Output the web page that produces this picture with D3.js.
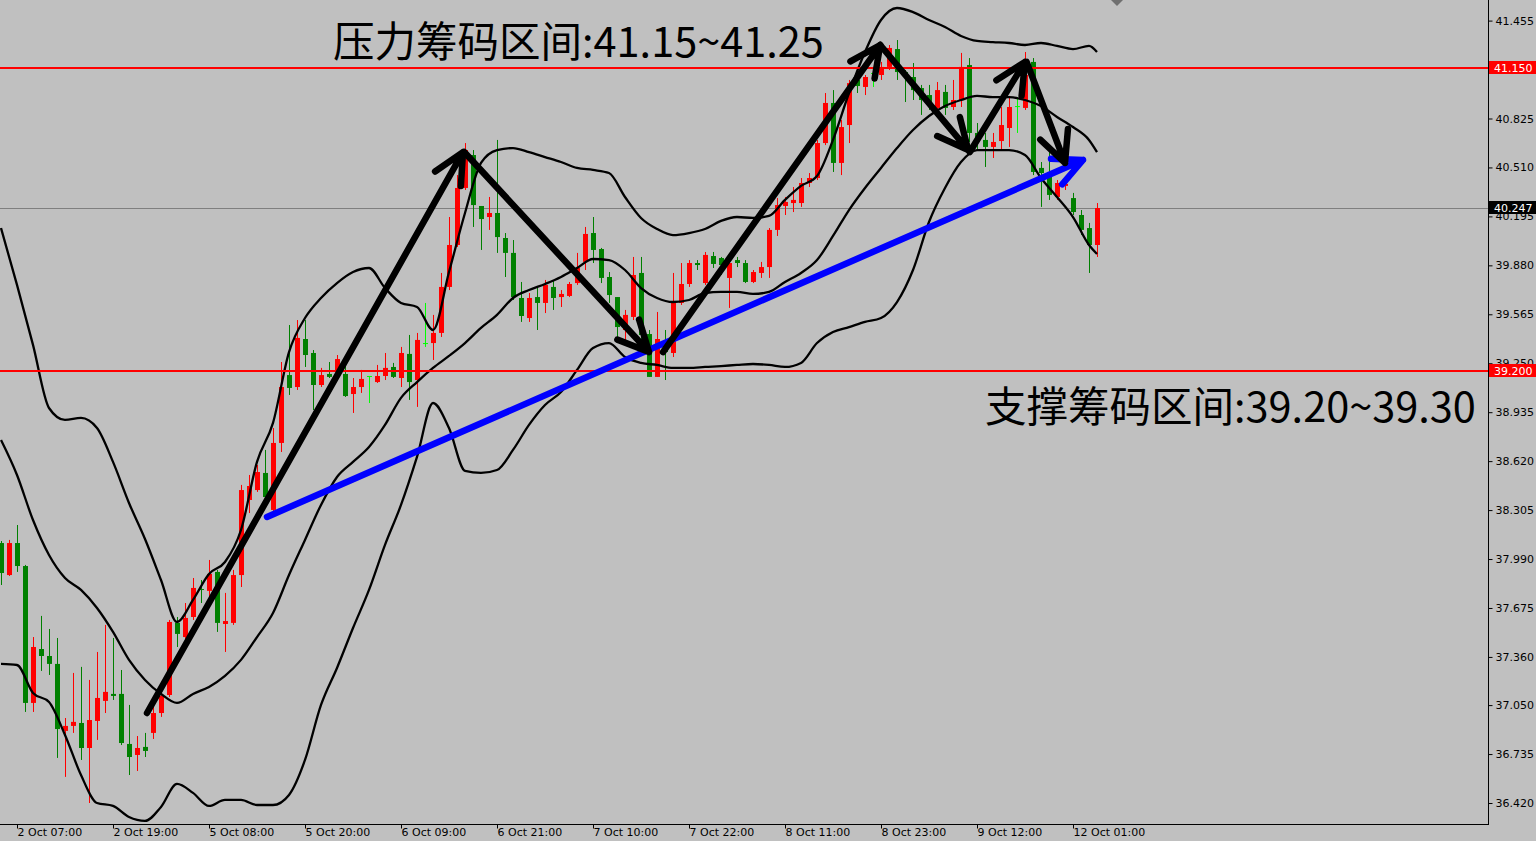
<!DOCTYPE html>
<html><head><meta charset="utf-8">
<script src="https://cdn.jsdelivr.net/npm/d3@7"></script>
<style>
html,body{margin:0;padding:0;background:#c0c0c0;overflow:hidden}
svg{display:block}
</style></head><body>
<svg id="chart" width="1536" height="841"></svg>
<script>
// ---------- DATA ----------
const openP = [38.093,37.887,38.093,37.945,37.064,37.411,37.366,37.315,36.884,36.916,
36.935,36.774,36.948,37.077,37.122,37.122,36.800,36.729,36.781,36.871,
36.999,37.115,37.579,37.488,37.617,37.797,37.785,37.907,37.572,37.579,
37.887,38.370,38.434,38.544,38.306,38.737,39.174,39.097,39.406,39.316,
39.110,39.181,39.194,39.181,39.052,39.097,39.168,39.129,39.168,39.226,
39.155,39.310,39.142,39.380,39.380,39.445,39.741,40.011,40.378,40.590,
40.262,40.191,40.217,40.056,39.960,39.670,39.541,39.676,39.638,39.741,
39.676,39.683,39.766,39.902,40.088,39.985,39.805,39.676,39.464,39.548,
39.831,39.438,39.162,39.355,39.316,39.638,39.760,39.895,39.766,39.940,
39.927,39.799,39.914,39.895,39.773,39.831,39.869,40.108,40.262,40.281,
40.281,40.410,40.442,40.667,40.925,40.539,40.783,41.073,41.028,41.118,
41.105,41.157,41.272,41.124,41.092,41.021,40.976,40.893,40.996,40.899,
40.944,41.169,40.732,40.687,40.642,40.680,40.764,40.905,40.893,41.189,
40.507,40.481,40.320,40.391,40.313,40.204,40.120,40.011];
const highP = [38.106,38.113,38.209,37.952,37.488,37.624,37.540,37.482,36.967,37.257,
37.296,37.212,37.392,37.566,37.482,37.276,37.051,36.851,36.871,37.038,
37.135,37.598,37.617,37.707,37.868,37.855,37.984,37.920,37.772,37.920,
38.467,38.531,38.595,38.692,38.833,39.258,39.496,39.528,39.528,39.335,
39.220,39.258,39.303,39.284,39.155,39.207,39.168,39.239,39.316,39.252,
39.355,39.432,39.445,39.638,39.561,39.831,40.191,40.461,40.667,40.622,
40.262,40.320,40.687,40.088,40.043,39.773,39.702,39.741,39.786,39.786,
39.721,39.773,39.960,40.127,40.191,39.992,39.837,39.676,39.593,39.934,
39.934,39.464,39.580,39.464,39.831,39.895,39.914,39.914,39.966,39.966,
39.934,39.914,39.934,39.914,39.850,39.902,40.120,40.313,40.320,40.384,
40.442,40.474,40.687,40.989,41.008,40.815,41.073,41.105,41.105,41.157,
41.189,41.298,41.330,41.137,41.182,41.041,41.041,41.060,41.041,41.073,
41.247,41.214,40.796,40.732,40.732,40.899,40.963,40.963,41.253,41.214,
40.545,40.609,40.429,40.416,40.346,40.236,40.153,40.281];
const lowP = [37.823,37.881,37.907,37.006,37.006,37.270,37.244,36.710,36.588,36.871,
36.697,36.420,36.826,36.999,37.083,36.793,36.600,36.626,36.716,36.832,
36.974,37.102,37.424,37.469,37.598,37.707,37.727,37.521,37.392,37.566,
37.810,38.286,38.422,38.370,38.293,38.679,39.046,39.078,39.226,38.949,
39.097,39.155,39.174,39.033,38.930,39.059,38.994,39.123,39.142,39.155,
39.097,39.014,38.969,39.355,39.271,39.419,39.721,39.998,40.365,40.127,
39.979,40.108,39.960,39.805,39.657,39.516,39.516,39.464,39.573,39.593,
39.612,39.676,39.754,39.850,39.895,39.766,39.638,39.380,39.380,39.528,
39.335,39.162,39.162,39.142,39.290,39.625,39.741,39.850,39.754,39.863,
39.818,39.606,39.869,39.766,39.766,39.799,39.799,40.069,40.204,40.223,
40.256,40.384,40.429,40.654,40.481,40.461,40.667,40.989,40.976,41.028,
41.073,41.137,41.073,40.931,40.944,40.848,40.880,40.880,40.848,40.880,
40.899,40.674,40.622,40.513,40.571,40.622,40.642,40.732,40.880,40.461,
40.256,40.301,40.301,40.365,40.204,40.075,39.831,39.934];
const closeP = [37.900,38.093,37.945,37.064,37.424,37.366,37.315,36.896,36.916,36.942,
36.774,36.954,37.096,37.135,37.109,36.806,36.716,36.774,36.755,36.999,
37.109,37.585,37.508,37.611,37.804,37.791,37.894,37.579,37.591,37.887,
38.434,38.460,38.550,38.389,38.737,39.097,39.091,39.413,39.303,39.110,
39.174,39.162,39.277,39.039,39.097,39.149,39.168,39.168,39.220,39.162,
39.316,39.129,39.400,39.380,39.445,39.741,40.011,40.378,40.622,40.268,
40.178,40.217,40.062,39.960,39.676,39.554,39.670,39.638,39.754,39.670,
39.696,39.760,39.863,40.082,39.979,39.799,39.689,39.483,39.561,39.818,
39.432,39.162,39.406,39.322,39.638,39.760,39.895,39.882,39.947,39.889,
39.882,39.895,39.895,39.773,39.837,39.869,40.108,40.268,40.288,40.301,
40.410,40.442,40.667,40.925,40.539,40.770,41.053,41.034,41.092,41.118,
41.157,41.279,41.124,41.099,41.008,40.944,40.931,41.008,40.893,40.944,
41.157,40.732,40.687,40.642,40.674,40.783,40.899,40.905,41.105,40.481,
40.474,40.333,40.410,40.404,40.223,40.108,40.011,40.249];

// Bollinger band readings, one value every 2 bars (bar 0,2,...,136) plus the last bar 137
const bbUpper = [40.120,39.754,39.368,38.962,38.885,38.898,38.833,38.615,38.351,38.119,
37.855,37.585,37.727,37.894,37.971,38.177,38.615,38.866,39.322,39.541,
39.670,39.766,39.837,39.863,39.734,39.638,39.612,39.464,39.837,40.217,
40.539,40.622,40.635,40.609,40.577,40.545,40.507,40.494,40.474,40.320,
40.185,40.114,40.075,40.088,40.114,40.166,40.191,40.185,40.198,40.301,
40.391,40.455,40.687,40.989,41.253,41.459,41.536,41.510,41.459,41.414,
41.356,41.324,41.317,41.311,41.298,41.311,41.292,41.272,41.292,41.253];
const bbMiddle = [38.756,38.531,38.241,38.016,37.868,37.791,37.675,37.521,37.341,37.212,
37.122,37.064,37.122,37.167,37.238,37.341,37.488,37.643,37.887,38.113,
38.338,38.518,38.615,38.711,38.853,39.027,39.129,39.220,39.297,39.380,
39.477,39.561,39.670,39.721,39.760,39.805,39.863,39.921,39.914,39.850,
39.734,39.670,39.644,39.657,39.702,39.709,39.709,39.696,39.709,39.773,
39.831,39.914,40.069,40.236,40.378,40.507,40.635,40.751,40.841,40.905,
40.944,40.970,40.963,40.963,40.944,40.905,40.835,40.770,40.687,40.609];
const bbLower = [37.315,37.308,37.128,37.070,36.858,36.600,36.420,36.401,36.330,36.305,
36.395,36.543,36.485,36.401,36.440,36.440,36.407,36.407,36.472,36.697,
37.051,37.289,37.546,37.791,38.081,38.338,38.647,38.994,38.833,38.557,
38.544,38.563,38.692,38.853,38.981,39.065,39.207,39.348,39.380,39.290,
39.252,39.239,39.220,39.220,39.226,39.232,39.239,39.245,39.239,39.226,
39.252,39.380,39.451,39.483,39.516,39.541,39.644,39.850,40.159,40.378,
40.545,40.622,40.622,40.622,40.590,40.442,40.320,40.191,40.011,39.953];

const xTickIndex = [2,14,26,38,50,62,74,86,98,110,122,134];
const xTickLabels = ["2 Oct 07:00","2 Oct 19:00","5 Oct 08:00","5 Oct 20:00","6 Oct 09:00",
  "6 Oct 21:00","7 Oct 10:00","7 Oct 22:00","8 Oct 11:00","8 Oct 23:00","9 Oct 12:00","12 Oct 01:00"];
const yTicks = [41.455,40.825,40.510,40.195,39.880,39.565,39.250,38.935,38.620,38.305,
  37.990,37.675,37.360,37.050,36.735,36.420];

const resistance = 41.150, support = 39.200, lastPrice = 40.247;
const resistanceText = "压力筹码区间:41.15~41.25";
const supportText = "支撑筹码区间:39.20~39.30";

// hand-drawn arrows: [barIndex, price] start -> end
const blackArrows = [
  [[18.25,36.999],[57.75,40.609]],
  [[57.9,40.609],[81.0,39.322]],
  [[82.75,39.322],[109.9,41.298]],
  [[109.9,41.298],[120.9,40.622]],
  [[121.1,40.609],[128.0,41.189]],
  [[128.2,41.189],[133.0,40.539]]
];
const blueArrow = [[33.25,38.261],[135.25,40.558]];

// ---------- DRAW ----------
const svg = d3.select("#chart");
const plotW = 1488, plotH = 824;
const x = d3.scaleLinear().domain([0,137]).range([1,1097]);
const y = d3.scaleLinear().domain([36.42,41.15]).range([803,68]);

svg.append("rect").attr("width",1536).attr("height",841).attr("fill","#c0c0c0");
svg.append("defs").append("clipPath").attr("id","plot")
  .append("rect").attr("x",0).attr("y",0).attr("width",plotW).attr("height",plotH);
const g = svg.append("g").attr("clip-path","url(#plot)");

// current price line
g.append("line").attr("x1",0).attr("x2",plotW)
  .attr("y1",Math.round(y(lastPrice))+0.5).attr("y2",Math.round(y(lastPrice))+0.5)
  .attr("stroke","#7f7f7f").attr("stroke-width",1);

// candles
const bars = d3.range(openP.length).map(i=>({i,o:openP[i],h:highP[i],l:lowP[i],c:closeP[i]}));
const col = d => d.c>d.o ? "#ff0000" : (d.c<d.o ? "#008000" : "#00ff00");
const cg = g.append("g");
cg.selectAll("line.wick").data(bars).join("line")
  .attr("x1",d=>Math.round(x(d.i))+0.5).attr("x2",d=>Math.round(x(d.i))+0.5)
  .attr("y1",d=>y(d.h)).attr("y2",d=>y(d.l))
  .attr("stroke",col).attr("stroke-width",1);
cg.selectAll("rect.body").data(bars).join("rect")
  .attr("x",d=>Math.round(x(d.i))-2).attr("width",5)
  .attr("y",d=>Math.min(y(d.o),y(d.c)))
  .attr("height",d=>Math.max(1,Math.abs(y(d.o)-y(d.c))))
  .attr("fill",col);

// bollinger bands
const bbIdx = d3.range(0,137,2).concat([137]);
const bandLine = arr => d3.line().x((d,i)=>x(bbIdx[i])).y(d=>y(d)).curve(d3.curveMonotoneX)(arr);
[bbUpper,bbMiddle,bbLower].forEach(a=>{
  g.append("path").attr("d",bandLine(a)).attr("fill","none")
   .attr("stroke","#000").attr("stroke-width",2.3).attr("stroke-linejoin","round");
});

// horizontal levels
[resistance,support].forEach(p=>{
  g.append("line").attr("x1",0).attr("x2",plotW).attr("y1",y(p)).attr("y2",y(p))
   .attr("stroke","#ff0000").attr("stroke-width",2);
});

// arrows
function drawArrow(a,color,w,headLen){
  const x1=x(a[0][0]),y1=y(a[0][1]),x2=x(a[1][0]),y2=y(a[1][1]);
  const ang=Math.atan2(y1-y2,x1-x2), sp=0.45;
  const p1=[x2+headLen*Math.cos(ang+sp),y2+headLen*Math.sin(ang+sp)];
  const p2=[x2+headLen*Math.cos(ang-sp),y2+headLen*Math.sin(ang-sp)];
  g.append("path").attr("d",`M${x1},${y1}L${x2},${y2}M${p1[0]},${p1[1]}L${x2},${y2}L${p2[0]},${p2[1]}`)
   .attr("fill","none").attr("stroke",color).attr("stroke-width",w)
   .attr("stroke-linecap","round").attr("stroke-linejoin","round");
}
drawArrow(blueArrow,"#0000ff",6.5,32);
blackArrows.forEach(a=>drawArrow(a,"#000",6.5,34));

// annotation texts
svg.append("text").attr("x",333).attr("y",57).text(resistanceText)
  .attr("font-family","'Noto Sans CJK SC','Noto Sans',sans-serif").attr("font-size",41.5).attr("fill","#000");
svg.append("text").attr("x",985).attr("y",422).text(supportText)
  .attr("font-family","'Noto Sans CJK SC','Noto Sans',sans-serif").attr("font-size",41.5).attr("fill","#000");

// axes frame
svg.append("line").attr("x1",plotW+0.5).attr("x2",plotW+0.5).attr("y1",0).attr("y2",plotH+1).attr("stroke","#000");
svg.append("line").attr("x1",0).attr("x2",plotW+1).attr("y1",plotH+0.5).attr("y2",plotH+0.5).attr("stroke","#000");

// right axis
const ya = svg.append("g").attr("transform",`translate(${plotW+0.5},0)`)
  .call(d3.axisRight(y).tickValues(yTicks).tickSize(4).tickPadding(3).tickFormat(d3.format(".3f")));
ya.select(".domain").remove();
ya.selectAll("line").attr("stroke","#000");
ya.selectAll("text").attr("font-family","'DejaVu Sans',sans-serif").attr("font-size",11).attr("fill","#000");

// bottom axis
const xa = svg.append("g").attr("transform",`translate(0,${plotH+0.5})`)
  .call(d3.axisBottom(x).tickValues(xTickIndex).tickSize(4).tickFormat((d,i)=>xTickLabels[i]));
xa.select(".domain").remove();
xa.selectAll("line").attr("stroke","#000");
xa.selectAll("text").attr("text-anchor","start").attr("dx",0).attr("y",4)
  .attr("font-family","'DejaVu Sans',sans-serif").attr("font-size",11).attr("fill","#000");

// price tags
[[resistance,"#ff0000","#fff"],[support,"#ff0000","#fff"],[lastPrice,"#000","#fff"]].forEach(([p,bg,fg])=>{
  const yy=Math.round(y(p));
  svg.append("rect").attr("x",plotW+1).attr("y",yy-7).attr("width",48).attr("height",13).attr("fill",bg);
  svg.append("text").attr("x",plotW+6).attr("y",yy+4).text(p.toFixed(3))
    .attr("font-family","'DejaVu Sans',sans-serif").attr("font-size",11).attr("fill",fg);
});

// chart shift marker
svg.append("path").attr("d","M1111,0L1123,0L1117,6Z").attr("fill","#707070");
</script>
</body></html>
